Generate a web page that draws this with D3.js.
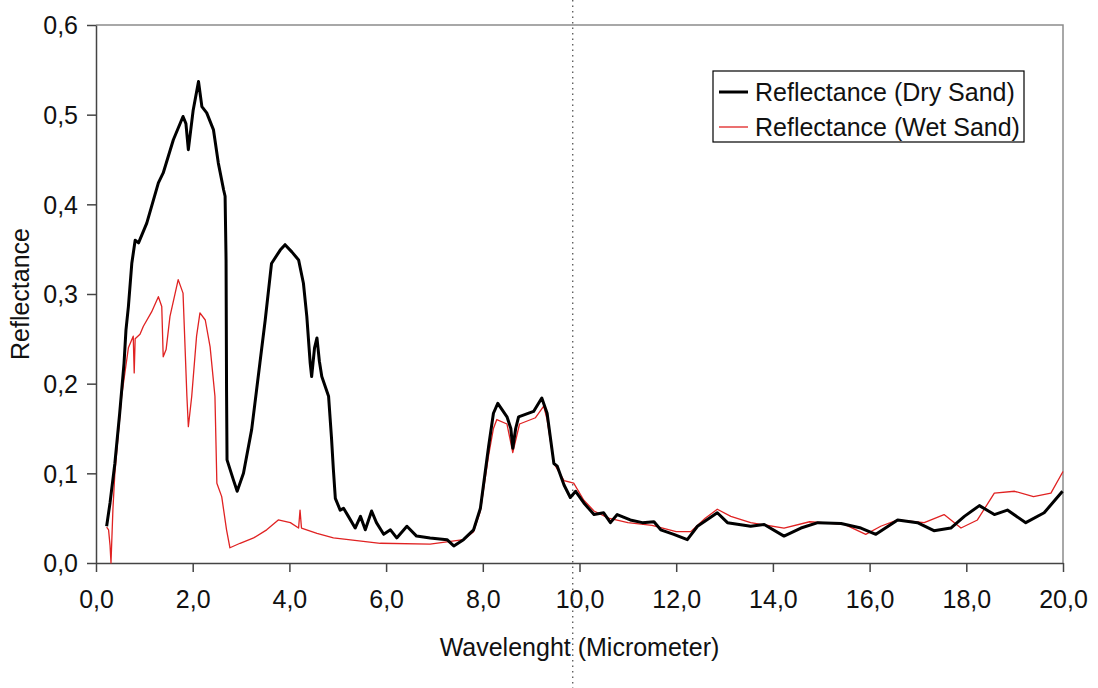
<!DOCTYPE html>
<html>
<head>
<meta charset="utf-8">
<script src="https://cdn.jsdelivr.net/npm/d3@7"></script>
<style>
  body { margin: 0; background: #fff; }
  svg { display: block; font-family: "Liberation Sans", Arial, sans-serif; }
</style>
</head>
<body>
<div id="chart"></div>
<script>
// values
const dryWavelength = [0.22,0.29,0.39,0.49,0.58,0.62,0.67,0.74,0.81,0.88,1.05,1.29,1.39,1.60,1.80,1.86,1.91,2.01,2.12,2.19,2.29,2.43,2.53,2.64,2.67,2.69,2.70,2.71,2.84,2.92,3.05,3.22,3.39,3.50,3.63,3.81,3.91,4.05,4.19,4.29,4.36,4.43,4.46,4.52,4.57,4.62,4.67,4.81,4.87,4.91,4.95,5.05,5.12,5.22,5.36,5.47,5.57,5.70,5.80,5.95,6.09,6.22,6.43,6.63,6.91,7.26,7.40,7.60,7.81,7.95,8.12,8.22,8.31,8.50,8.58,8.62,8.68,8.74,9.05,9.22,9.33,9.47,9.54,9.68,9.81,9.92,10.09,10.30,10.50,10.64,10.78,11.05,11.30,11.54,11.68,11.95,12.23,12.44,12.85,13.06,13.54,13.82,14.23,14.58,14.93,15.41,15.82,16.13,16.58,16.99,17.33,17.68,17.96,18.27,18.58,18.85,19.23,19.61,19.99];
const dryReflectance = [0.041,0.067,0.111,0.167,0.223,0.260,0.286,0.334,0.360,0.357,0.379,0.424,0.435,0.472,0.498,0.490,0.461,0.505,0.537,0.509,0.502,0.483,0.446,0.416,0.409,0.338,0.193,0.115,0.093,0.080,0.100,0.149,0.223,0.271,0.334,0.349,0.355,0.347,0.338,0.312,0.275,0.223,0.208,0.240,0.251,0.225,0.208,0.186,0.140,0.104,0.072,0.059,0.061,0.052,0.039,0.052,0.037,0.058,0.045,0.032,0.037,0.028,0.041,0.030,0.028,0.026,0.019,0.026,0.037,0.061,0.130,0.167,0.178,0.163,0.150,0.128,0.150,0.163,0.169,0.184,0.167,0.111,0.108,0.087,0.073,0.080,0.067,0.054,0.056,0.045,0.054,0.048,0.045,0.046,0.037,0.032,0.026,0.041,0.056,0.045,0.041,0.043,0.030,0.039,0.045,0.044,0.039,0.032,0.048,0.045,0.036,0.039,0.052,0.064,0.054,0.059,0.045,0.056,0.080];

const wetWavelength = [0.22,0.26,0.29,0.31,0.35,0.39,0.53,0.67,0.77,0.79,0.81,0.91,0.98,1.15,1.29,1.36,1.39,1.45,1.53,1.70,1.80,1.88,1.91,1.98,2.08,2.15,2.26,2.36,2.46,2.50,2.60,2.70,2.77,2.98,3.26,3.53,3.77,4.02,4.19,4.22,4.25,4.57,4.91,5.22,5.88,6.91,7.60,7.81,7.95,8.12,8.22,8.29,8.50,8.62,8.76,9.09,9.26,9.33,9.47,9.68,9.88,10.09,10.30,10.60,11.00,11.50,12.00,12.30,12.60,12.85,13.13,13.54,14.23,14.76,15.48,15.92,16.23,16.58,17.13,17.54,17.89,18.23,18.58,19.00,19.39,19.75,20.00];
const wetReflectance = [0.040,0.037,0.020,0.000,0.060,0.100,0.186,0.240,0.253,0.212,0.250,0.255,0.264,0.280,0.297,0.286,0.230,0.238,0.275,0.316,0.301,0.186,0.152,0.186,0.253,0.279,0.271,0.241,0.186,0.089,0.074,0.037,0.017,0.022,0.028,0.037,0.048,0.045,0.039,0.059,0.039,0.033,0.028,0.026,0.022,0.021,0.026,0.035,0.058,0.120,0.150,0.160,0.155,0.123,0.155,0.162,0.175,0.160,0.111,0.092,0.089,0.070,0.058,0.050,0.045,0.042,0.035,0.035,0.050,0.060,0.052,0.045,0.039,0.046,0.043,0.032,0.041,0.048,0.045,0.054,0.039,0.048,0.078,0.080,0.074,0.078,0.102];

const xTicks = [0, 2, 4, 6, 8, 10, 12, 14, 16, 18, 20];
const yTicks = [0, 0.1, 0.2, 0.3, 0.4, 0.5, 0.6];
const seriesNames = ["Reflectance (Dry Sand)", "Reflectance (Wet Sand)"];
const markerWavelength = 9.86;

const width = 1098, height = 688;
const margin = { top: 25, right: 35, bottom: 125, left: 96 };
const fontSize = "25px";

const svg = d3.select("#chart").append("svg")
    .attr("width", width)
    .attr("height", height);

const x = d3.scaleLinear().domain([0, 20]).range([margin.left, width - margin.right]);
const y = d3.scaleLinear().domain([0, 0.6]).range([height - margin.bottom, margin.top]);

const fmt = d => d3.format(".1f")(d).replace(".", ",");

// plot frame, grey on top and right
svg.append("path")
    .attr("d", `M${x(0)},${y(0.6)}H${x(20)}V${y(0)}`)
    .attr("fill", "none")
    .attr("stroke", "#8c8c8c")
    .attr("stroke-width", 1.5);

const xAxis = svg.append("g")
    .attr("transform", `translate(0,${y(0)})`)
    .call(d3.axisBottom(x).tickValues(xTicks).tickFormat(fmt).tickSize(9).tickSizeOuter(0));

const yAxis = svg.append("g")
    .attr("transform", `translate(${x(0)},0)`)
    .call(d3.axisLeft(y).tickValues(yTicks).tickFormat(fmt).tickSize(9).tickSizeOuter(0));

[xAxis, yAxis].forEach(g => {
    g.selectAll("path, line").attr("stroke", "#444").attr("stroke-width", 1.5);
    g.selectAll("text").attr("fill", "#111").style("font-size", fontSize)
     .style("font-family", "'Liberation Sans', Arial, sans-serif");
});
xAxis.selectAll("text").attr("dy", "1.3em");
yAxis.selectAll("text").attr("x", -18).attr("dy", "0.35em");

// dotted marker line crossing the whole picture
svg.append("line")
    .attr("x1", x(markerWavelength)).attr("x2", x(markerWavelength))
    .attr("y1", 0).attr("y2", height)
    .attr("stroke", "#555")
    .attr("stroke-width", 1.3)
    .attr("stroke-dasharray", "1.5,4");

const line = d3.line()
    .x(d => x(d[0]))
    .y(d => y(d[1]));

const dry = dryWavelength.map((w, i) => [w, dryReflectance[i]]);
const wet = wetWavelength.map((w, i) => [w, wetReflectance[i]]);

svg.append("path")
    .datum(wet)
    .attr("d", line)
    .attr("fill", "none")
    .attr("stroke", "#e02222")
    .attr("stroke-width", 1.3)
    .attr("stroke-linejoin", "round");

svg.append("path")
    .datum(dry)
    .attr("d", line)
    .attr("fill", "none")
    .attr("stroke", "#000")
    .attr("stroke-width", 3)
    .attr("stroke-linejoin", "round");

// axis titles
svg.append("text")
    .attr("x", (x(0) + x(20)) / 2)
    .attr("y", 656)
    .attr("text-anchor", "middle")
    .style("font-size", fontSize)
    .attr("fill", "#111")
    .text("Wavelenght (Micrometer)");

svg.append("text")
    .attr("transform", `translate(29,${(y(0) + y(0.6)) / 2}) rotate(-90)`)
    .attr("text-anchor", "middle")
    .style("font-size", fontSize)
    .attr("fill", "#111")
    .text("Reflectance");

// legend
const legend = svg.append("g").attr("transform", "translate(713,71)");
legend.append("rect")
    .attr("width", 311).attr("height", 71)
    .attr("fill", "#fff")
    .attr("stroke", "#000")
    .attr("stroke-width", 1.2);

const legendColors = ["#000", "#e02222"];
const legendWidths = [3, 1.3];
seriesNames.forEach((name, i) => {
    const row = legend.append("g").attr("transform", `translate(0,${21 + i * 35})`);
    row.append("line")
        .attr("x1", 6).attr("x2", 35)
        .attr("stroke", legendColors[i])
        .attr("stroke-width", legendWidths[i]);
    row.append("text")
        .attr("x", 42)
        .attr("dy", "0.35em")
        .style("font-size", fontSize)
        .attr("fill", "#111")
        .text(name);
});
</script>
</body>
</html>
